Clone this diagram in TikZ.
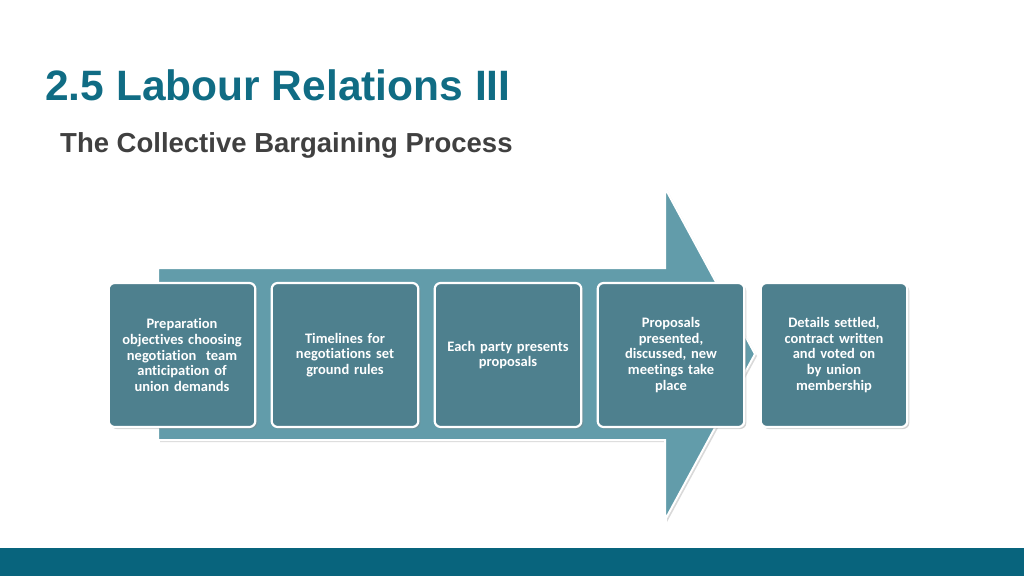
\documentclass[tikz,border=0pt]{standalone}
\usepackage{fontspec}
\setmainfont{Liberation Sans}
\newfontfamily\boxfont{Carlito}[Ligatures=NoCommon]
\usetikzlibrary{shadows}
\definecolor{titleteal}{RGB}{16,108,132}
\definecolor{arrowteal}{RGB}{98,156,170}
\definecolor{boxteal}{RGB}{78,128,142}
\definecolor{barteal}{RGB}{8,100,125}
\definecolor{subgray}{RGB}{64,64,64}
\begin{document}
\begin{tikzpicture}[x=1pt,y=-1pt,
  stepbox/.style={rectangle,rounded corners=6pt,draw=white,line width=2.2pt,fill=boxteal,
    minimum width=146pt,minimum height=144pt,text width=140pt,align=center,
    text=white,font=\boxfont\bfseries\fontsize{14.5}{15.6}\selectfont,
    drop shadow={shadow xshift=2pt,shadow yshift=-2pt,opacity=0.35}}]
\useasboundingbox (0,0) rectangle (1024,576);
\fill[barteal] (0,548) rectangle (1024,576);
\node[anchor=base west,text=titleteal,font=\bfseries\fontsize{42.5}{44}\selectfont,inner sep=0] (title) at (45,100) {2.5 Labour Relations III};
\node[anchor=base west,text=subgray,font=\bfseries\fontsize{27.5}{30}\selectfont,inner sep=0] (sub) at (60,152) {The Collective Bargaining Process};
\draw[fill=arrowteal,draw=white,line width=2pt,drop shadow={shadow xshift=2pt,shadow yshift=-2pt,opacity=0.3}]
  (158,268) -- (665,268) -- (665,188) -- (755,354) -- (665,520) -- (665,440) -- (158,440) -- cycle;
\node[stepbox] (s1) at (182,355) {Preparation\\objectives choosing\\negotiation\ \ team\\anticipation of\\union demands};
\node[stepbox] (s2) at (345,355) {Timelines for\\negotiations set\\ground rules};
\node[stepbox] (s3) at (508,355) {Each party presents\\proposals};
\node[stepbox] (s4) at (671,355) {Proposals\\presented,\\discussed, new\\meetings take\\place};
\node[stepbox] (s5) at (834,355) {Details settled,\\contract written\\and voted on\\by union\\membership};
\end{tikzpicture}
\end{document}
